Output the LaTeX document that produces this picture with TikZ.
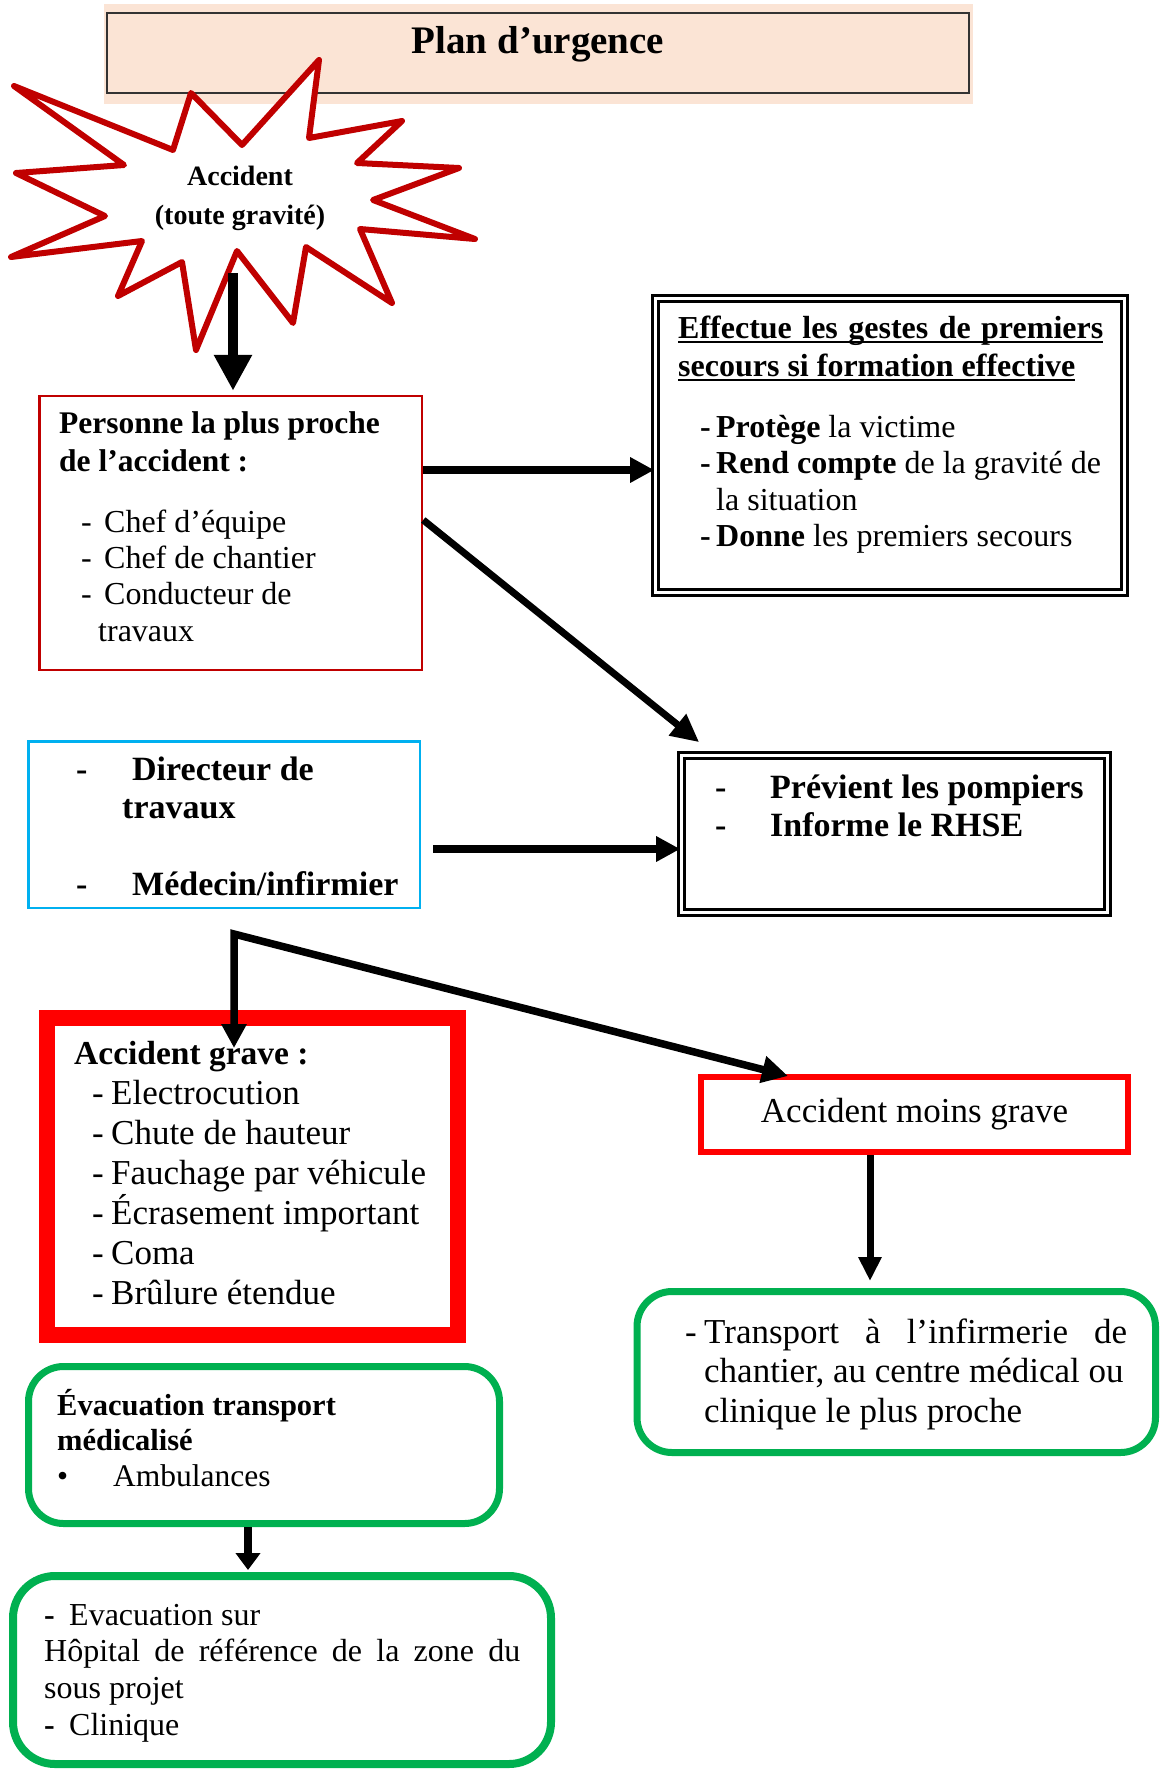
\documentclass[tikz,border=0pt]{standalone}
\usepackage{fontspec}
\setmainfont{Liberation Serif}
\usetikzlibrary{arrows.meta,calc}

\definecolor{burstred}{HTML}{C00000}
\definecolor{alertred}{HTML}{FF0000}
\definecolor{skyblue}{HTML}{00B0F0}
\definecolor{okgreen}{HTML}{00B050}
\definecolor{peach}{HTML}{FBE4D5}

% underline drawn a little below the baseline, through the descenders
\newcommand\ulbox[1]{\leavevmode\setbox0\hbox{#1}\rlap{\rule[-5pt]{\wd0}{1.6pt}}\box0}
\newcommand\fsz[2]{\fontsize{#1pt}{#2pt}\selectfont}

\begin{document}
\begin{tikzpicture}[x=1pt,y=-1pt,
  box/.style={draw, rectangle, inner sep=0pt},
  rbox/.style={box, draw=okgreen, line width=7pt, rounded corners=35pt},
  dbox/.style={box, double, double distance=3pt, line width=2.6pt},
  txt/.style={anchor=base west, inner sep=0pt},
  arr/.style={line width=8pt, -{Triangle[length=24pt,width=24pt]}},
]
\useasboundingbox (0,0) rectangle (1159,1769);
\fill[white] (0,0) rectangle (1159,1769);

% title banner
\fill[peach] (104,4) rectangle (973,104);
\node[box, draw=black!80, fill=peach, line width=1.5pt, minimum width=862pt, minimum height=80pt] (title) at (538,53) {};
\node[anchor=base, inner sep=0pt, font=\fsz{39}{46}\bfseries] (titletext) at (538,53.5) {Plan d’urgence};

% starburst
\draw[burstred, line width=6pt, fill=white, line join=round]
  (14,86) -- (173,150) -- (191,93) -- (242,145) -- (319,60) -- (309,138)
  -- (402,121) -- (357,163) -- (459,168) -- (373,200) -- (475,239) -- (360,229)
  -- (392,303) -- (306,247) -- (293,323) -- (237,251) -- (196,350) -- (182,262)
  -- (118,296) -- (142,241) -- (11,257) -- (105,216) -- (16,173) -- (124,165) -- cycle;
\node[anchor=base, inner sep=0pt, font=\fsz{28}{39.5}\bfseries] (burst) at (240,185)
  {\parbox[t]{200pt}{\centering Accident\\(toute gravité)}};

% nearest person
\node[box, draw=burstred, line width=2.5pt, minimum width=382.5pt, minimum height=274pt] (person) at (230.75,533) {};
\node[txt, font=\fsz{31.5}{38.2}\bfseries] (personhead) at (59,433.6)
  {\parbox[t]{340pt}{Personne la plus proche\\de l’accident :}};
\node[txt, font=\fsz{32}{36.2}] (personlist) at (81,532.5)
  {\parbox[t]{330pt}{\makebox[23pt][l]{-}Chef d’équipe\\\makebox[23pt][l]{-}Chef de chantier\\\makebox[23pt][l]{-}Conducteur de\\\hspace*{17pt}travaux}};

% first aid
\node[dbox, minimum width=469pt, minimum height=294pt] (effect) at (890,445.5) {};
\node[txt, font=\fsz{32}{38}\bfseries] (effecthead) at (678,338)
  {\parbox[t]{430pt}{\ulbox{\makebox[425pt][s]{Effectue les gestes de premiers}}\\\ulbox{secours si formation effective}}};
\node[txt, font=\fsz{32}{36.6}] (effectlist) at (700,437)
  {\parbox[t]{420pt}{\makebox[16pt][l]{\textbf{-}}\textbf{Protège} la victime\\\makebox[16pt][l]{\textbf{-}}\textbf{Rend compte} de la gravité de\\\hspace*{16pt}la situation\\\makebox[16pt][l]{\textbf{-}}\textbf{Donne} les premiers secours}};

% site managers
\node[box, draw=skyblue, line width=2.5pt, minimum width=391.5pt, minimum height=166.5pt] (director) at (224,824.5) {};
\node[txt, font=\fsz{34}{38}\bfseries] (directortext) at (76,780)
  {\parbox[t]{340pt}{\makebox[56pt][l]{-}Directeur de\\\hspace*{46pt}travaux\\[39pt]\makebox[56pt][l]{-}Médecin/infirmier}};

% alert
\node[dbox, minimum width=426pt, minimum height=157pt] (alert) at (894.5,834) {};
\node[txt, font=\fsz{34}{37.5}\bfseries] (alerttext) at (715,798.6)
  {\parbox[t]{380pt}{\makebox[55pt][l]{-}Prévient les pompiers\\\makebox[55pt][l]{-}Informe le RHSE}};

% serious accident
\node[box, draw=alertred, line width=16pt, minimum width=410.5pt, minimum height=317.5pt] (grave) at (252.25,1176.25) {};
\node[txt, font=\fsz{35}{39.9}] (gravetext) at (74,1064.6)
  {\parbox[t]{380pt}{{\fsz{33.5}{39.9}\bfseries Accident grave :}\\
   \hspace*{18pt}\makebox[19pt][l]{-}Electrocution\\
   \hspace*{18pt}\makebox[19pt][l]{-}Chute de hauteur\\
   \hspace*{18pt}\makebox[19pt][l]{-}Fauchage par véhicule\\
   \hspace*{18pt}\makebox[19pt][l]{-}Écrasement important\\
   \hspace*{18pt}\makebox[19pt][l]{-}Coma\\
   \hspace*{18pt}\makebox[19pt][l]{-}Brûlure étendue}};

% minor accident
\node[box, draw=alertred, line width=6pt, minimum width=427pt, minimum height=75pt, font=\fsz{35}{40}] (minor) at (914.5,1114.5) {Accident moins grave};

% local care
\node[rbox, minimum width=518.5pt, minimum height=161pt] (clinic) at (896.25,1372) {};
\node[txt, font=\fsz{35}{39.5}] (clinictext) at (685,1343)
  {\parbox[t]{450pt}{\makebox[19pt][l]{-}\makebox[423pt][s]{Transport à l’infirmerie de}\\\hspace*{19pt}chantier, au centre médical ou\\\hspace*{19pt}clinique le plus proche}};

% medical evacuation
\node[rbox, minimum width=471pt, minimum height=157pt] (evac) at (264,1445) {};
\node[txt, font=\fsz{31.5}{35.5}] (evactext) at (57,1415)
  {\parbox[t]{420pt}{{\fsz{30.5}{35.5}\bfseries Évacuation transport}\\{\fsz{30.5}{35.5}\bfseries médicalisé}\\\makebox[56pt][l]{•}Ambulances}};

% hospital
\node[rbox, line width=8pt, rounded corners=42pt, minimum width=538pt, minimum height=188pt] (hospital) at (282,1670) {};
\node[txt, font=\fsz{32}{36.7}] (hospitaltext) at (44,1625)
  {\parbox[t]{490pt}{\makebox[25pt][l]{\textbf{-}}Evacuation sur\\\makebox[476pt][s]{Hôpital de référence de la zone du}\\sous projet\\\makebox[25pt][l]{\textbf{-}}Clinique}};

% connectors
\coordinate (burstfoot) at (233,273);
\draw[line width=10pt, -{Triangle[length=36pt,width=36pt]}, shorten >=4pt] (burstfoot) -- (burstfoot |- person.north);

\coordinate (firstaidy) at (0,470);
\draw[arr] (person.east |- firstaidy) -- (effect.west |- firstaidy);

\coordinate (diagstart) at (0,520);
\draw[line width=7pt, -{Triangle[length=28pt,width=26pt]}] (person.east |- diagstart) -- ($(alert.north west)+(19,-12)$);

\coordinate (briefy) at (0,849);
\draw[arr, shorten <=12pt] (director.east |- briefy) -- (alert.west |- briefy);

\coordinate (split) at (234,934);
\coordinate (gravehead) at (234,1048);
\coordinate (minorhead) at (788,1076);
\draw[line width=7.5pt, line join=miter, {Triangle[length=24pt,width=24pt]}-{Triangle[length=26pt,width=26pt]}] (gravehead) -- (split) -- (minorhead);

\coordinate (minorfoot) at ([xshift=-44.5pt]minor.south);
\draw[line width=7pt, -{Triangle[length=24pt,width=22pt]}, shorten >=7pt] (minorfoot) -- (minorfoot |- clinic.north);

\coordinate (evacfoot) at ([xshift=-16pt]evac.south);
\draw[line width=8pt, -{Triangle[length=17pt,width=24pt]}, shorten >=2pt] (evacfoot) -- (evacfoot |- hospital.north);
\end{tikzpicture}
\end{document}
